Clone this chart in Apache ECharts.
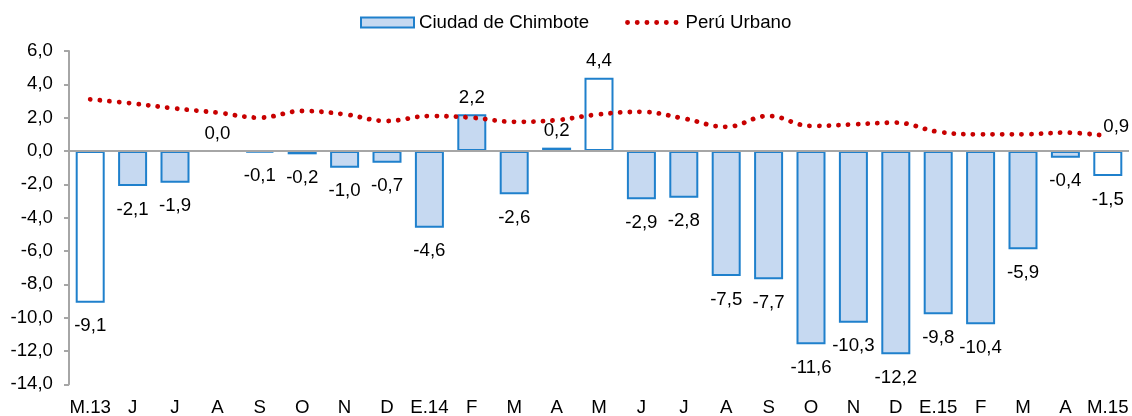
<!DOCTYPE html>
<html>
<head>
<meta charset="utf-8">
<script src="https://cdn.jsdelivr.net/npm/echarts@6/dist/echarts.min.js"></script>
<style>
  html, body { margin: 0; padding: 0; background: #fff; }
  #chart { width: 1132px; height: 416px; }
</style>
</head>
<body>
<div id="chart"></div>
<script>
// datos
const categories = ['M.13', 'J', 'J', 'A', 'S', 'O', 'N', 'D', 'E.14', 'F', 'M', 'A', 'M',
  'J', 'J', 'A', 'S', 'O', 'N', 'D', 'E.15', 'F', 'M', 'A', 'M.15'];
const chimbote = [-9.1, -2.1, -1.9, 0.0, -0.1, -0.2, -1.0, -0.7, -4.6, 2.2, -2.6, 0.2, 4.4,
  -2.9, -2.8, -7.5, -7.7, -11.6, -10.3, -12.2, -9.8, -10.4, -5.9, -0.4, -1.5];
const peruUrbano = [3.1, 2.85, 2.55, 2.3, 2.0, 2.4, 2.2, 1.8, 2.1, 2.0, 1.75, 1.85, 2.2,
  2.35, 1.95, 1.45, 2.1, 1.5, 1.6, 1.7, 1.15, 1.0, 1.0, 1.1, 0.9];
const yMin = -14, yMax = 6, yStep = 2;

const FONT = 'Liberation Sans, Arial, sans-serif';
const fmt = v => Number(v).toFixed(1).replace('.', ',');
const dotted = { color: '#C80000', width: 4.8, type: [0.1, 9.6], cap: 'round' };

const chart = echarts.init(document.getElementById('chart'));

const barData = chimbote.map((v, i) => ({
    value: v,
    itemStyle: i % 12 === 0 ? { color: '#ffffff' } : undefined, // mayo de cada año en blanco
    label: { position: v < 0 ? 'bottom' : 'top', distance: v < 0 ? 14 : 7 }
}));

const lineData = peruUrbano.map((v, i) => {
    if (i !== peruUrbano.length - 1) return v;
    return {
        value: v,
        symbol: 'circle',
        symbolSize: 1,
        itemStyle: { color: 'rgba(0,0,0,0)' },
        label: {
            show: true, position: 'right', distance: 0, offset: [-5, -9],
            formatter: p => fmt(p.value), color: '#000', fontSize: 18.67, fontFamily: FONT
        }
    };
});

chart.setOption({
    animation: false,
    textStyle: { fontFamily: FONT, color: '#000' },
    legend: {
        left: 355, top: 8,
        itemWidth: 53, itemHeight: 10, itemGap: 36,
        textStyle: { fontSize: 18.67, color: '#000', fontFamily: FONT },
        data: [
            { name: 'Ciudad de Chimbote', icon: 'rect' },
            { name: 'Perú Urbano', itemStyle: { opacity: 0 }, lineStyle: dotted }
        ]
    },
    grid: { left: 69, right: 3, top: 51, bottom: 31.7, outerBoundsMode: 'none' },
    xAxis: {
        type: 'category',
        data: categories,
        axisLine: { show: false, onZero: false },
        axisTick: { show: false },
        axisLabel: { color: '#000', fontSize: 18.67, fontFamily: FONT, margin: 14, interval: 0 },
        splitLine: { show: false }
    },
    yAxis: {
        type: 'value',
        min: yMin, max: yMax, interval: yStep,
        axisLine: { show: true, lineStyle: { color: '#A6A6A6', width: 2 } },
        axisTick: { show: true, length: 5, lineStyle: { color: '#A6A6A6', width: 2 } },
        axisLabel: { color: '#000', fontSize: 18.67, fontFamily: FONT, margin: 16, formatter: v => fmt(v) },
        splitLine: { show: false }
    },
    series: [
        {
            name: 'Ciudad de Chimbote',
            type: 'bar',
            barWidth: 29,
            itemStyle: { color: '#C6D9F1', borderColor: '#1F80CC', borderWidth: 2 },
            label: { show: true, color: '#000', fontSize: 18.67, fontFamily: FONT, formatter: p => fmt(p.value) },
            data: barData,
            markLine: {
                silent: true,
                symbol: ['none', 'none'],
                label: { show: false },
                lineStyle: { color: '#A6A6A6', type: 'solid', width: 2 },
                data: [{ yAxis: 0 }]
            }
        },
        {
            name: 'Perú Urbano',
            type: 'line',
            smooth: 0.4,
            symbol: 'none',
            lineStyle: dotted,
            itemStyle: { color: '#C80000' },
            data: lineData,
            z: 3
        }
    ]
});
</script>
</body>
</html>
